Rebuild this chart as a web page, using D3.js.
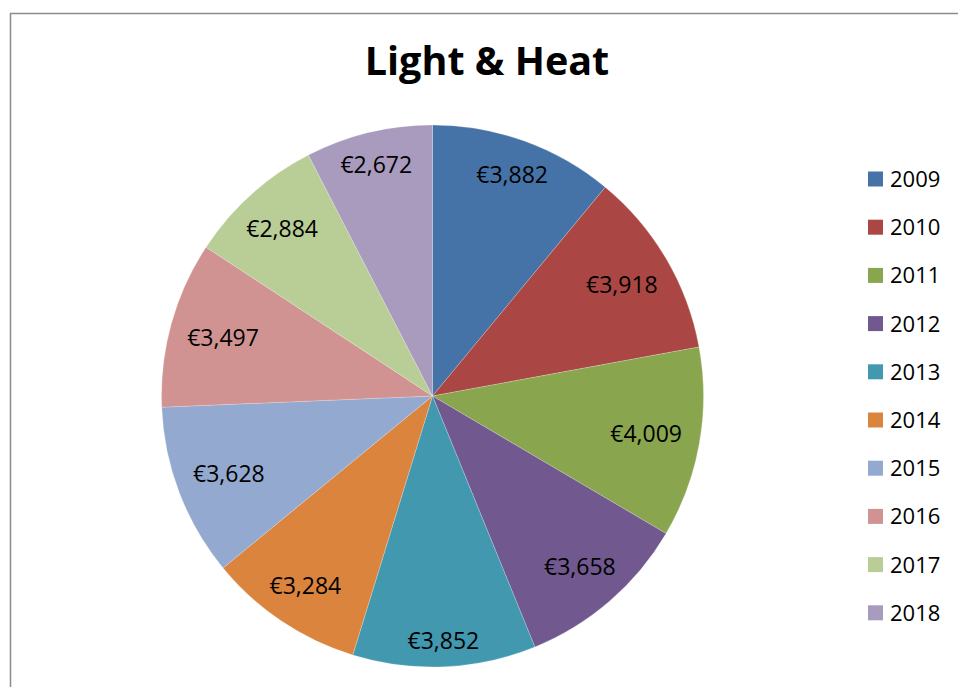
<!DOCTYPE html>
<html>
<head>
<meta charset="utf-8">
<script src="https://cdnjs.cloudflare.com/ajax/libs/d3/7.8.5/d3.min.js"></script>
<style>
  html, body { margin: 0; padding: 0; background: #fff; }
  svg { display: block; font-family: 'Open Sans', sans-serif; }
</style>
</head>
<body>
<div id="chart"></div>
<script>
const years = ['2009', '2010', '2011', '2012', '2013', '2014', '2015', '2016', '2017', '2018'];
const costs = [3882, 3918, 4009, 3658, 3852, 3284, 3628, 3497, 2884, 2672];
const colors = ['#4572A7', '#AA4643', '#89A54E', '#71588F', '#4198AF', '#DB843D', '#93A9CF', '#D19392', '#B9CD96', '#A99BBD'];

const width = 958;
const height = 687;
const cx = 432.5;
const cy = 396;
const radius = 271;

const data = years.map((y, i) => ({ year: y, value: costs[i] }));

const svg = d3.select('#chart')
  .append('svg')
  .attr('width', width)
  .attr('height', height)

// chart frame, runs off the right and bottom edge
svg.append('rect')
  .attr('x', 10.5)
  .attr('y', 13.5)
  .attr('width', width + 20)
  .attr('height', height + 20)
  .style('fill', 'none')
  .style('stroke', '#8c8c8c')
  .style('stroke-width', 1.5)

svg.append('text')
  .attr('x', 487)
  .attr('y', 75)
  .attr('text-anchor', 'middle')
  .style('font-size', '39.5px')
  .style('font-weight', 'bold')
  .style('fill', '#000')
  .text('Light & Heat')

const color = d3.scaleOrdinal()
  .domain(years)
  .range(colors)

const pie = d3.pie()
  .value((d) => d.value)
  .sort(null)

const arc = d3.arc()
  .innerRadius(0)
  .outerRadius(radius)

const arcs = pie(data);

const g = svg.append('g')
  .attr('transform', `translate(${cx}, ${cy})`)

g.selectAll('path')
  .data(arcs)
  .enter()
  .append('path')
  .attr('d', arc)
  .style('fill', (d) => color(d.data.year))
  .style('stroke', 'rgba(255,255,255,0.35)')
  .style('stroke-width', 0.6)

const euro = d3.format(',');

// labels sit at the inside end of each slice, box pushed against an inner circle
const labels = g.selectAll('.label')
  .data(arcs)
  .enter()
  .append('text')
  .attr('class', 'label')
  .attr('text-anchor', 'middle')
  .attr('dy', '0.36em')
  .style('font-size', '23px')
  .style('fill', '#000')
  .text((d) => '€' + euro(d.data.value))

labels.each(function (d) {
  const hw = this.getComputedTextLength() / 2;
  const hh = 4;
  const target = 253;
  const mid = (d.startAngle + d.endAngle) / 2;
  const ux = Math.sin(mid);
  const uy = -Math.cos(mid);
  const b = hw * Math.abs(ux) + hh * Math.abs(uy);
  const c = hw * hw + hh * hh - target * target;
  const r = -b + Math.sqrt(b * b - c);
  d3.select(this)
    .attr('x', r * ux)
    .attr('y', r * uy)
})

const legend = svg.selectAll('.legend')
  .data(years)
  .enter()
  .append('g')
  .attr('class', 'legend')
  .attr('transform', (d, i) => `translate(868, ${179 + i * 48.2})`)

legend.append('rect')
  .attr('x', 0)
  .attr('y', -7.5)
  .attr('width', 15)
  .attr('height', 15)
  .style('fill', (d) => color(d))

legend.append('text')
  .attr('x', 22)
  .attr('dy', '0.36em')
  .style('font-size', '22px')
  .style('fill', '#000')
  .text((d) => d)
</script>
</body>
</html>
